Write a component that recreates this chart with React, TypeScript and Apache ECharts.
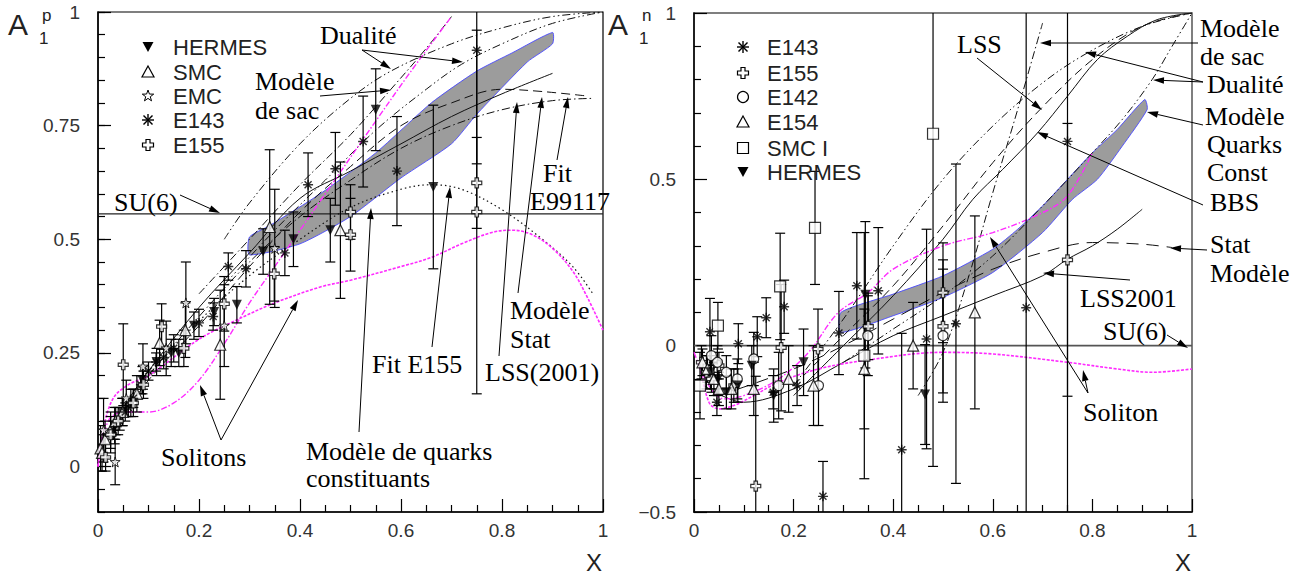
import React, { useEffect, useRef } from "react";
import * as echarts from "echarts";

type P = [number, number, number];
type C = [number, number][];

// ---------- Left panel (proton) data: [x, A1, error] ----------
const L_HERMES: P[] = [[0.033,0.09,0.04],[0.048,0.12,0.03],[0.065,0.14,0.03],[0.088,0.19,0.03],[0.116,0.23,0.03],[0.145,0.25,0.03],[0.16,0.25,0.03],[0.19,0.31,0.03],[0.23,0.34,0.03],[0.275,0.356,0.04],[0.327,0.473,0.05],[0.387,0.5,0.06],[0.46,0.52,0.07],[0.55,0.785,0.09],[0.664,0.615,0.18]];
const L_SMC: P[] = [[0.005,0.04,0.05],[0.008,0.03,0.04],[0.014,0.06,0.04],[0.025,0.08,0.04],[0.035,0.1,0.03],[0.049,0.12,0.03],[0.077,0.16,0.04],[0.122,0.272,0.05],[0.173,0.3,0.06],[0.242,0.268,0.12],[0.34,0.527,0.17],[0.48,0.52,0.15]];
const L_EMC: P[] = [[0.011,0.08,0.07],[0.034,0.01,0.05],[0.056,0.15,0.04],[0.089,0.22,0.05],[0.135,0.26,0.06],[0.174,0.36,0.09],[0.25,0.31,0.09],[0.35,0.48,0.13]];
const L_E143: P[] = [[0.031,0.08,0.02],[0.043,0.1,0.02],[0.054,0.12,0.02],[0.06,0.13,0.02],[0.07,0.15,0.02],[0.085,0.18,0.02],[0.1,0.21,0.02],[0.115,0.23,0.02],[0.13,0.24,0.025],[0.15,0.26,0.03],[0.2,0.316,0.03],[0.228,0.33,0.03],[0.258,0.44,0.03],[0.293,0.435,0.04],[0.37,0.47,0.05],[0.416,0.62,0.07],[0.47,0.655,0.08],[0.525,0.715,0.1],[0.592,0.65,0.12],[0.75,0.916,0.25]];
const L_E155: P[] = [[0.015,0.02,0.03],[0.025,0.07,0.04],[0.04,0.1,0.03],[0.05,0.224,0.09],[0.07,0.14,0.03],[0.09,0.18,0.03],[0.126,0.308,0.05],[0.17,0.26,0.04],[0.25,0.358,0.06],[0.349,0.424,0.06],[0.5,0.51,0.08],[0.5,0.56,0.06],[0.75,0.56,0.4],[0.75,0.624,0.1]];

// left curves
const L_SU6: C = [[0,0.556],[1,0.556]];
const L_BAND_UP: C = [[0.3,0.505],[0.34,0.53],[0.44,0.6],[0.55,0.69],[0.66,0.8],[0.75,0.87],[0.82,0.91],[0.9,0.955]];
const L_BAND_LO: C = [[0.3,0.466],[0.4,0.49],[0.5,0.55],[0.6,0.635],[0.7,0.71],[0.75,0.775],[0.85,0.89],[0.9,0.93]];
const L_DUAL1: C = [[0.25,0.5],[0.3,0.58],[0.4,0.71],[0.5,0.81],[0.58,0.87],[0.7,0.93],[0.8,0.965],[0.9,0.99],[1,1]];
const L_DUAL2: C = [[0.25,0.4],[0.35,0.52],[0.45,0.63],[0.55,0.74],[0.65,0.83],[0.72,0.885],[0.8,0.93],[0.9,0.975],[1,1]];
const L_SAC: C = [[0.2,0.38],[0.3,0.5],[0.4,0.62],[0.5,0.73],[0.58,0.83],[0.65,0.92],[0.7,0.99]];
const L_E99117: C = [[0.03,0.09],[0.1,0.2],[0.2,0.33],[0.3,0.45],[0.4,0.55],[0.5,0.63],[0.6,0.7],[0.7,0.75],[0.8,0.785],[0.9,0.805],[0.98,0.81]];
const L_STAT: C = [[0.03,0.08],[0.1,0.19],[0.2,0.31],[0.3,0.44],[0.4,0.56],[0.5,0.66],[0.6,0.75],[0.7,0.8],[0.8,0.83],[0.88,0.825],[0.97,0.815]];
const L_LSS: C = [[0.01,0.05],[0.05,0.13],[0.1,0.21],[0.2,0.35],[0.3,0.47],[0.4,0.59],[0.5,0.65],[0.6,0.71],[0.7,0.77],[0.8,0.82],[0.9,0.865]];
const L_FITE155: C = [[0.03,0.08],[0.1,0.2],[0.2,0.32],[0.3,0.42],[0.4,0.5],[0.5,0.57],[0.6,0.61],[0.66,0.62],[0.72,0.61],[0.8,0.565],[0.88,0.5],[0.94,0.44],[0.98,0.38]];
const L_SOL1: C = [[0,0],[0.01,0.08],[0.03,0.15],[0.06,0.18],[0.1,0.2],[0.2,0.28],[0.27,0.32],[0.35,0.36],[0.44,0.395],[0.5,0.41],[0.6,0.44],[0.66,0.46],[0.72,0.49],[0.78,0.515],[0.82,0.52],[0.86,0.51],[0.9,0.48],[0.94,0.43],[0.97,0.37],[1,0.3]];
const L_SOL2: C = [[0,0],[0.02,0.1],[0.05,0.12],[0.1,0.12],[0.15,0.14],[0.2,0.19],[0.25,0.27],[0.3,0.36],[0.35,0.44],[0.4,0.52],[0.45,0.6],[0.55,0.76],[0.62,0.87],[0.7,0.99]];

// ---------- Right panel (neutron) data ----------
const R_E143: P[] = [[0.032,0.042,0.1],[0.046,-0.17,0.04],[0.089,0.006,0.06],[0.127,0.027,0.06],[0.145,0.084,0.06],[0.159,-0.14,0.05],[0.181,0.117,0.08],[0.207,-0.12,0.06],[0.259,-0.453,0.105],[0.291,0.038,0.125],[0.327,0.18,0.16],[0.37,0.165,0.19],[0.417,-0.313,0.35],[0.467,0.02,0.33],[0.526,0.066,0.48],[0.667,0.114,1.5],[0.75,0.614,1.5]];
const R_E155: P[] = [[0.015,-0.05,0.05],[0.025,-0.08,0.05],[0.035,-0.1,0.04],[0.05,-0.06,0.04],[0.08,-0.12,0.05],[0.124,-0.422,0.33],[0.175,-0.006,0.19],[0.249,-0.01,0.12],[0.35,0.058,0.1],[0.5,0.159,0.15],[0.5,0.058,0.2],[0.75,0.258,0.41]];
const R_E142: P[] = [[0.035,-0.03,0.06],[0.047,-0.05,0.05],[0.065,-0.08,0.05],[0.087,-0.1,0.06],[0.12,-0.04,0.08],[0.17,-0.12,0.1],[0.25,-0.12,0.12],[0.349,0.03,0.12],[0.5,0.03,0.2]];
const R_E154: P[] = [[0.017,-0.05,0.04],[0.027,-0.07,0.04],[0.04,-0.1,0.05],[0.05,-0.13,0.05],[0.075,-0.13,0.06],[0.12,-0.13,0.08],[0.19,-0.1,0.1],[0.24,-0.12,0.12],[0.342,-0.07,0.18],[0.44,0.0,0.13],[0.564,0.1,0.29]];
const R_SMCI: P[] = [[0.012,-0.12,0.1],[0.048,0.06,0.07],[0.173,0.178,0.16],[0.243,0.354,0.17],[0.342,-0.03,0.37],[0.48,0.637,1.0]];
const R_HERMES: P[] = [[0.033,-0.08,0.05],[0.048,-0.1,0.05],[0.065,-0.14,0.05],[0.088,-0.12,0.05],[0.116,-0.06,0.06],[0.16,-0.15,0.08],[0.22,-0.05,0.1],[0.344,0.153,0.22],[0.464,-0.147,0.15]];

const R_SU6: C = [[0,0],[1,0]];
const R_BAND_UP: C = [[0.295,0.1],[0.4,0.155],[0.5,0.21],[0.6,0.29],[0.65,0.35],[0.7,0.42],[0.75,0.5],[0.8,0.58],[0.85,0.65],[0.905,0.74]];
const R_BAND_LO: C = [[0.295,0.04],[0.4,0.09],[0.5,0.145],[0.6,0.22],[0.7,0.34],[0.76,0.44],[0.81,0.5],[0.86,0.6],[0.91,0.71]];
const R_BBS: C = [[0.2,-0.15],[0.3,0.0],[0.4,0.15],[0.5,0.32],[0.56,0.44],[0.62,0.53],[0.69,0.64],[0.75,0.75],[0.81,0.86],[0.87,0.93],[0.93,0.98],[1,1]];
const R_LSS: C = [[0.2,-0.12],[0.3,0.03],[0.4,0.18],[0.5,0.36],[0.6,0.55],[0.695,0.71],[0.8,0.86],[0.9,0.96],[1,1]];
const R_SAC: C = [[0.45,-0.15],[0.5,-0.02],[0.55,0.2],[0.6,0.46],[0.65,0.71],[0.7,0.97]];
const R_DUALA: C = [[0.2,-0.12],[0.3,0.08],[0.4,0.3],[0.5,0.5],[0.6,0.66],[0.7,0.79],[0.79,0.88],[0.9,0.96],[1,1]];
const R_DUALB: C = [[0.3,-0.05],[0.4,0.05],[0.5,0.15],[0.6,0.27],[0.7,0.42],[0.8,0.58],[0.86,0.68],[0.92,0.8],[0.96,0.9],[1,1]];
const R_STAT: C = [[0.05,-0.15],[0.2,-0.07],[0.3,0.0],[0.4,0.08],[0.5,0.16],[0.6,0.23],[0.7,0.28],[0.8,0.31],[0.9,0.305],[0.96,0.295]];
const R_LSS2001: C = [[0.02,-0.12],[0.1,-0.17],[0.2,-0.13],[0.3,-0.05],[0.4,0.03],[0.5,0.09],[0.6,0.15],[0.7,0.21],[0.75,0.26],[0.8,0.3],[0.85,0.35],[0.9,0.41]];
const R_SOL_LOW: C = [[0.01,-0.05],[0.03,-0.17],[0.05,-0.19],[0.08,-0.18],[0.12,-0.15],[0.17,-0.11],[0.25,-0.07],[0.34,-0.045],[0.5,-0.02],[0.6,-0.025],[0.75,-0.05],[0.85,-0.07],[0.92,-0.08],[1,-0.07]];
const R_SOL_UP: C = [[0,-0.02],[0.03,-0.12],[0.06,-0.16],[0.1,-0.15],[0.17,-0.1],[0.23,-0.02],[0.29,0.1],[0.35,0.16],[0.4,0.23],[0.5,0.3],[0.6,0.34],[0.7,0.4],[0.75,0.45],[0.8,0.58]];

const L_YMAJOR = [0, 0.25, 0.5, 0.75, 1];

// ---------- symbols ----------
const SYM_AST = "path://M5,0L5,10M0,5L10,5M1.5,1.5L8.5,8.5M1.5,8.5L8.5,1.5";
const SYM_PLUS = "path://M3.3,0H6.7V3.3H10V6.7H6.7V10H3.3V6.7H0V3.3H3.3Z";
const SYM_STAR = "path://M5,0L6.1,3.6L10,3.6L6.9,5.9L8.1,10L5,7.5L1.9,10L3.1,5.9L0,3.6L3.9,3.6Z";

type Kind = "down" | "up" | "star" | "ast" | "plus" | "circ" | "sq";
const symStyle = (k: Kind) => {
  switch (k) {
    case "down": return { symbol: "triangle", symbolRotate: 180, symbolSize: 10, itemStyle: { color: "#000" } };
    case "up": return { symbol: "triangle", symbolSize: 11, itemStyle: { color: "#fff", borderColor: "#000", borderWidth: 1.2 } };
    case "star": return { symbol: SYM_STAR, symbolSize: 10, itemStyle: { color: "#fff", borderColor: "#000", borderWidth: 1 } };
    case "ast": return { symbol: SYM_AST, symbolSize: 10, itemStyle: { color: "rgba(0,0,0,0)", borderColor: "#000", borderWidth: 1.4 } };
    case "plus": return { symbol: SYM_PLUS, symbolSize: 10, itemStyle: { color: "#fff", borderColor: "#000", borderWidth: 1.2 } };
    case "circ": return { symbol: "circle", symbolSize: 10, itemStyle: { color: "#fff", borderColor: "#000", borderWidth: 1.2 } };
    case "sq": return { symbol: "rect", symbolSize: 11, itemStyle: { color: "#fff", borderColor: "#000", borderWidth: 1.2 } };
  }
};

const errSeries = (data: P[], xi: number, yi: number) => ({
  type: "custom",
  xAxisIndex: xi,
  yAxisIndex: yi,
  clip: true,
  silent: true,
  z: 3,
  encode: { x: 0, y: 1 },
  data,
  renderItem: (_p: any, api: any) => {
    const x = api.value(0), y = api.value(1), e = api.value(2);
    const t = api.coord([x, y + e]);
    const b = api.coord([x, y - e]);
    const st = { stroke: "#000", lineWidth: 1.2 };
    return {
      type: "group",
      children: [
        { type: "line", shape: { x1: t[0], y1: t[1], x2: b[0], y2: b[1] }, style: st },
        { type: "line", shape: { x1: t[0] - 5, y1: t[1], x2: t[0] + 5, y2: t[1] }, style: st },
        { type: "line", shape: { x1: b[0] - 5, y1: b[1], x2: b[0] + 5, y2: b[1] }, style: st },
      ],
    };
  },
});

const symSeries = (name: string, data: P[], k: Kind, xi: number, yi: number) => ({
  type: "scatter",
  name,
  xAxisIndex: xi,
  yAxisIndex: yi,
  silent: true,
  z: 5,
  data: data.map((p) => [p[0], p[1]]),
  ...symStyle(k),
});

const lineSeries = (data: C, xi: number, yi: number, color: string, type: any, width = 1, smooth: any = 0.35) => ({
  type: "line",
  xAxisIndex: xi,
  yAxisIndex: yi,
  data,
  showSymbol: false,
  symbol: "none",
  smooth,
  silent: true,
  z: 2,
  lineStyle: { color, width, type },
});

const bandSeries = (up: C, lo: C, xi: number, yi: number) => ({
  type: "custom",
  xAxisIndex: xi,
  yAxisIndex: yi,
  silent: true,
  z: 1,
  data: [[up[0][0], up[0][1]]],
  encode: { x: 0, y: 1 },
  renderItem: (_p: any, api: any) => {
    const pts = [...up, ...lo.slice().reverse()].map((q) => api.coord(q));
    return { type: "polygon", shape: { points: pts, smooth: 0.2 }, style: { fill: "#9c9c9c", stroke: "#4848ff", lineWidth: 0.9 } };
  },
});

const DASH = [9, 5];
const DASHDOT = [8, 3, 1.5, 3];
const DASHDOT2 = [8, 3, 1.5, 3, 1.5, 3];
const DOT = [1.5, 3];
const MAG = "#ff2bff";

// ---------- annotations (graphic) ----------
const SERIF = '26px "Liberation Serif", "Times New Roman", serif';
const SANS = '"Liberation Sans", Arial, sans-serif';

const ann = (t: string, x: number, y: number) => ({
  type: "text", x, y, z: 20,
  style: { text: t, font: SERIF, fill: "#000", verticalAlign: "middle", align: "left" },
});

const arrow = (x1: number, y1: number, x2: number, y2: number) => {
  const a = Math.atan2(y2 - y1, x2 - x1);
  const L = 11, W = 3.3;
  const bx = x2 - L * Math.cos(a), by = y2 - L * Math.sin(a);
  const p1 = [bx + W * Math.sin(a), by - W * Math.cos(a)];
  const p2 = [bx - W * Math.sin(a), by + W * Math.cos(a)];
  return [
    { type: "line", z: 20, shape: { x1, y1, x2: bx, y2: by }, style: { stroke: "#000", lineWidth: 1 } },
    { type: "polygon", z: 20, shape: { points: [[x2, y2], p1, p2] }, style: { fill: "#000" } },
  ];
};

const legSym = (k: Kind, cx: number, cy: number): any[] => {
  const st = { stroke: "#000", lineWidth: 1.2, fill: "#fff" };
  switch (k) {
    case "down": return [{ type: "polygon", shape: { points: [[cx - 5.5, cy - 5], [cx + 5.5, cy - 5], [cx, cy + 5]] }, style: { fill: "#000" } }];
    case "up": return [{ type: "polygon", shape: { points: [[cx, cy - 6], [cx + 6, cy + 5], [cx - 6, cy + 5]] }, style: st }];
    case "star": {
      const pts: number[][] = [];
      for (let i = 0; i < 10; i++) {
        const r = i % 2 === 0 ? 6 : 2.4;
        const ang = -Math.PI / 2 + (i * Math.PI) / 5;
        pts.push([cx + r * Math.cos(ang), cy + r * Math.sin(ang)]);
      }
      return [{ type: "polygon", shape: { points: pts }, style: { ...st, lineWidth: 1 } }];
    }
    case "ast": {
      const s = { stroke: "#000", lineWidth: 1.4 };
      return [
        { type: "line", shape: { x1: cx, y1: cy - 6, x2: cx, y2: cy + 6 }, style: s },
        { type: "line", shape: { x1: cx - 6, y1: cy, x2: cx + 6, y2: cy }, style: s },
        { type: "line", shape: { x1: cx - 4.5, y1: cy - 4.5, x2: cx + 4.5, y2: cy + 4.5 }, style: s },
        { type: "line", shape: { x1: cx - 4.5, y1: cy + 4.5, x2: cx + 4.5, y2: cy - 4.5 }, style: s },
      ];
    }
    case "plus": {
      const a = 2, b = 5.5;
      return [{ type: "polygon", shape: { points: [[cx - a, cy - b], [cx + a, cy - b], [cx + a, cy - a], [cx + b, cy - a], [cx + b, cy + a], [cx + a, cy + a], [cx + a, cy + b], [cx - a, cy + b], [cx - a, cy + a], [cx - b, cy + a], [cx - b, cy - a], [cx - a, cy - a]] }, style: st }];
    }
    case "circ": return [{ type: "circle", shape: { cx, cy, r: 5.5 }, style: st }];
    case "sq": return [{ type: "rect", shape: { x: cx - 5.5, y: cy - 5.5, width: 11, height: 11 }, style: st }];
  }
};

const legItem = (k: Kind, label: string, sx: number, tx: number, y: number) => [
  ...legSym(k, sx, y).map((e) => ({ ...e, z: 20 })),
  { type: "text", x: tx, y, z: 20, style: { text: label, font: `22px ${SANS}`, fill: "#222", verticalAlign: "middle" } },
];

const axisTitle = (x: number, sup: string) => [
  { type: "text", x, y: 24, z: 20, style: { text: "A", font: `30px ${SANS}`, fill: "#222", verticalAlign: "middle" } },
  { type: "text", x: x + 34, y: 15, z: 20, style: { text: sup, font: `17px ${SANS}`, fill: "#222", verticalAlign: "middle" } },
  { type: "text", x: x + 31, y: 38, z: 20, style: { text: "1", font: `17px ${SANS}`, fill: "#222", verticalAlign: "middle" } },
];

const graphics: any[] = [
  ...axisTitle(8, "p"),
  ...axisTitle(608, "n"),
  { type: "text", x: 586, y: 562, z: 20, style: { text: "X", font: `24px ${SANS}`, fill: "#222", verticalAlign: "middle" } },
  { type: "text", x: 1175, y: 562, z: 20, style: { text: "X", font: `24px ${SANS}`, fill: "#222", verticalAlign: "middle" } },
  // left legend
  ...legItem("down", "HERMES", 148, 173, 47),
  ...legItem("up", "SMC", 148, 173, 72),
  ...legItem("star", "EMC", 148, 173, 96),
  ...legItem("ast", "E143", 148, 173, 120),
  ...legItem("plus", "E155", 148, 173, 145),
  // right legend
  ...legItem("ast", "E143", 743, 767, 47),
  ...legItem("plus", "E155", 743, 767, 73),
  ...legItem("circ", "E142", 743, 767, 97),
  ...legItem("up", "E154", 743, 767, 122),
  ...legItem("sq", "SMC I", 743, 767, 148),
  ...legItem("down", "HERMES", 743, 767, 172),
  // left annotations
  ann("Dualité", 320, 35),
  ...arrow(362, 50, 391, 69),
  ...arrow(362, 50, 463, 62),
  ann("Modèle", 255, 81),
  ann("de sac", 255, 110),
  ...arrow(320, 96, 391, 90),
  ann("SU(6)", 114, 202),
  ...arrow(180, 195, 220, 213),
  ann("Fit", 543, 173),
  ann("E99117", 530, 201),
  ...arrow(557, 160, 568, 97),
  ann("Modèle", 510, 310),
  ann("Stat", 510, 339),
  ...arrow(518, 293, 542, 97),
  ann("LSS(2001)", 485, 372),
  ...arrow(499, 356, 517, 102),
  ann("Fit E155", 372, 364),
  ...arrow(432, 347, 450, 187),
  ann("Modèle de quarks", 306, 451),
  ann("constituants", 306, 478),
  ...arrow(359, 432, 371, 208),
  ann("Solitons", 161, 457),
  ...arrow(221, 440, 200, 385),
  ...arrow(221, 440, 298, 300),
  // right annotations
  ann("LSS", 957, 44),
  ...arrow(977, 58, 1042, 110),
  ann("Modèle", 1200, 28),
  ann("de sac", 1200, 56),
  ...arrow(1198, 43, 1040, 43),
  ann("Dualité", 1207, 84),
  ...arrow(1203, 82, 1085, 52),
  ...arrow(1203, 82, 1153, 80),
  ann("Modèle", 1205, 116),
  ann("Quarks", 1207, 144),
  ann("Const", 1207, 172),
  ...arrow(1203, 125, 1147, 112),
  ann("BBS", 1210, 202),
  ...arrow(1203, 205, 1037, 132),
  ann("Stat", 1210, 244),
  ann("Modèle", 1210, 273),
  ...arrow(1207, 250, 1170, 248),
  ann("LSS2001", 1080, 298),
  ...arrow(1130, 280, 1043, 273),
  ann("SU(6)", 1103, 331),
  ...arrow(1167, 335, 1188, 348),
  ann("Soliton", 1083, 412),
  ...arrow(1088, 393, 990, 237),
  ...arrow(1088, 393, 1083, 370),
];

// ---------- axes ----------
const labelStyle = { fontFamily: SANS, fontSize: 19, color: "#333" };
const xAxisCfg = (gi: number) => ({
  type: "value",
  gridIndex: gi,
  min: 0,
  max: 1,
  interval: 0.2,
  axisLine: { show: true, onZero: false, lineStyle: { color: "#000", width: 1.5 } },
  axisTick: { show: true, inside: true, length: 13, lineStyle: { color: "#000", width: 1.2 } },
  minorTick: { show: true, splitNumber: 4, length: 7, lineStyle: { color: "#000", width: 1.2 } },
  splitLine: { show: false },
  minorSplitLine: { show: false },
  axisLabel: { ...labelStyle, margin: 9, formatter: (v: number) => String(+v.toFixed(2)) },
});

const option: any = {
  animation: false,
  backgroundColor: "#fff",
  grid: [
    { left: 98, top: 12, width: 505, height: 500, show: true, borderColor: "#000", borderWidth: 1.2, backgroundColor: "transparent" },
    { left: 694, top: 13, width: 498, height: 499, show: true, borderColor: "#555", borderWidth: 1.5, backgroundColor: "transparent" },
  ],
  xAxis: [xAxisCfg(0), xAxisCfg(1)],
  yAxis: [
    {
      type: "value", gridIndex: 0, position: "left", min: -0.1, max: 1, interval: 0.05,
      axisLine: { show: true, onZero: false, lineStyle: { color: "#000", width: 1.5 } },
      axisTick: { show: true, inside: true, length: 7, lineStyle: { color: "#000", width: 1.2 } },
      axisLabel: { show: false },
      splitLine: { show: false },
    },
    {
      type: "value", gridIndex: 0, position: "left", min: -0.1, max: 1,
      axisLine: { show: false, onZero: false },
      axisTick: { show: true, inside: true, length: 13, customValues: L_YMAJOR, lineStyle: { color: "#000", width: 1.2 } },
      axisLabel: { ...labelStyle, margin: 18, customValues: L_YMAJOR, formatter: (v: number) => String(+v.toFixed(2)) },
      splitLine: { show: false },
    },
    {
      type: "value", gridIndex: 1, position: "left", min: -0.5, max: 1, interval: 0.5,
      axisLine: { show: true, onZero: false, lineStyle: { color: "#000", width: 1.5 } },
      axisTick: { show: true, inside: true, length: 13, lineStyle: { color: "#000", width: 1.2 } },
      minorTick: { show: true, splitNumber: 5, length: 7, lineStyle: { color: "#000", width: 1.2 } },
      axisLabel: { ...labelStyle, margin: 18, formatter: (v: number) => String(+v.toFixed(2)).replace("-", "\u2212") },
      splitLine: { show: false },
      minorSplitLine: { show: false },
    },
  ],
  graphic: { elements: graphics },
  series: [
    // left panel
    bandSeries(L_BAND_UP, L_BAND_LO, 0, 0),
    lineSeries(L_SU6, 0, 0, "#222", "solid", 1.2, false),
    lineSeries(L_DUAL1, 0, 0, "#111", DASHDOT2, 1),
    lineSeries(L_DUAL2, 0, 0, "#111", DASHDOT2, 1),
    lineSeries(L_SAC, 0, 0, "#111", DASHDOT, 1),
    lineSeries(L_E99117, 0, 0, "#111", DASHDOT, 1),
    lineSeries(L_STAT, 0, 0, "#111", DASH, 1),
    lineSeries(L_LSS, 0, 0, "#111", "solid", 1),
    lineSeries(L_FITE155, 0, 0, "#111", DOT, 1.2),
    lineSeries(L_SOL1, 0, 0, MAG, [3, 1.5], 1.6),
    lineSeries(L_SOL2, 0, 0, MAG, [6, 2, 1.5, 2], 1.4),
    errSeries(L_HERMES, 0, 0),
    errSeries(L_SMC, 0, 0),
    errSeries(L_EMC, 0, 0),
    errSeries(L_E143, 0, 0),
    errSeries(L_E155, 0, 0),
    symSeries("HERMES", L_HERMES, "down", 0, 0),
    symSeries("SMC", L_SMC, "up", 0, 0),
    symSeries("EMC", L_EMC, "star", 0, 0),
    symSeries("E143", L_E143, "ast", 0, 0),
    symSeries("E155", L_E155, "plus", 0, 0),
    // right panel
    bandSeries(R_BAND_UP, R_BAND_LO, 1, 2),
    lineSeries(R_SU6, 1, 2, "#555", "solid", 1.6, false),
    lineSeries(R_BBS, 1, 2, "#111", "solid", 1),
    lineSeries(R_LSS, 1, 2, "#111", DASH, 1),
    lineSeries(R_SAC, 1, 2, "#111", DASHDOT, 1),
    lineSeries(R_DUALA, 1, 2, "#111", DASHDOT2, 1),
    lineSeries(R_DUALB, 1, 2, "#111", DASHDOT2, 1),
    lineSeries(R_STAT, 1, 2, "#111", [12, 8], 1),
    lineSeries(R_LSS2001, 1, 2, "#111", "solid", 1),
    lineSeries(R_SOL_LOW, 1, 2, MAG, [3, 1.5], 1.6),
    lineSeries(R_SOL_UP, 1, 2, MAG, [6, 2, 1.5, 2], 1.4),
    errSeries(R_E143, 1, 2),
    errSeries(R_E155, 1, 2),
    errSeries(R_E142, 1, 2),
    errSeries(R_E154, 1, 2),
    errSeries(R_SMCI, 1, 2),
    errSeries(R_HERMES, 1, 2),
    symSeries("E143", R_E143, "ast", 1, 2),
    symSeries("E155", R_E155, "plus", 1, 2),
    symSeries("E142", R_E142, "circ", 1, 2),
    symSeries("E154", R_E154, "up", 1, 2),
    symSeries("SMC I", R_SMCI, "sq", 1, 2),
    symSeries("HERMES", R_HERMES, "down", 1, 2),
  ],
};

export default function App() {
  const ref = useRef<HTMLDivElement>(null);
  useEffect(() => {
    if (!ref.current) return;
    const chart = echarts.init(ref.current, null, { renderer: "svg" });
    chart.setOption(option);
    return () => chart.dispose();
  }, []);
  return (
    <div
      ref={ref}
      style={{ position: "fixed", left: 0, top: 0, width: 1299, height: 577, background: "#fff" }}
    />
  );
}
